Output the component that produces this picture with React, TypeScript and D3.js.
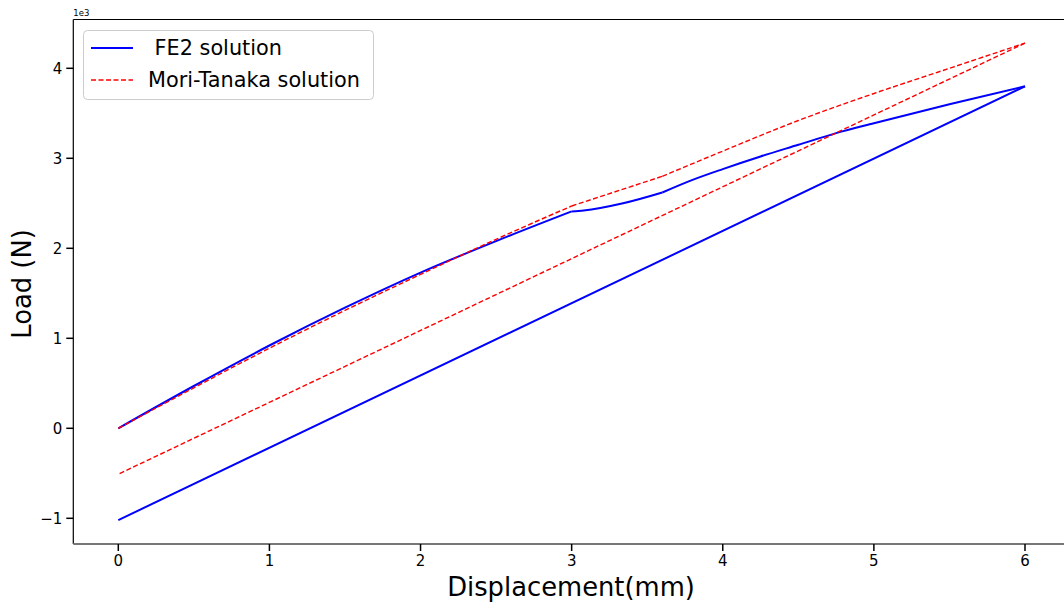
import React from "react";
import * as d3 from "d3";

const fe2LoadA: [number, number][] = [
  [0, 0], [0.5, 0.47], [1, 0.92], [1.5, 1.34], [2, 1.73], [2.5, 2.08], [3, 2.41],
];
const fe2LoadB: [number, number][] = [[3, 2.41], [3.08, 2.42], [3.34, 2.5], [3.6, 2.62]];
const fe2LoadC: [number, number][] = [
  [3.6, 2.62], [3.8, 2.76], [4, 2.88], [4.25, 3.02], [4.5, 3.15], [4.75, 3.28],
  [5, 3.39], [5.5, 3.6], [6, 3.8],
];
const fe2Unload: [number, number][] = [[6, 3.8], [0, -1.02]];
const mtLoadA: [number, number][] = [
  [0, 0], [0.5, 0.45], [1, 0.89], [1.5, 1.31], [2, 1.71], [2.5, 2.1], [3, 2.47],
];
const mtLoadB: [number, number][] = [[3, 2.47], [3.6, 2.8]];
const mtLoadC: [number, number][] = [
  [3.6, 2.8], [4, 3.08], [4.5, 3.42], [5, 3.72], [5.5, 4.0], [6, 4.28],
];
const mtUnload: [number, number][] = [[6, 4.28], [0, -0.51]];
const xTicks = [0, 1, 2, 3, 4, 5, 6];
const yTicks = [-1, 0, 1, 2, 3, 4];

export default function App() {
  const W = 1064, H = 605;
  const left = 73.3, top = 19.5, bottom = 544;
  const x = d3.scaleLinear().domain([0, 6]).range([118.3, 1025]);
  const y = d3.scaleLinear().domain([0, 4]).range([428.3, 68.3]);
  const line = d3.line<[number, number]>().x(d => x(d[0])).y(d => y(d[1])).curve(d3.curveMonotoneX);
  const font = "DejaVu Sans, sans-serif";
  const blue = (pts: [number, number][], k: string) => (
    <path key={k} d={line(pts)!} fill="none" stroke="#0000ff" strokeWidth={2} strokeLinejoin="round" />
  );
  const red = (pts: [number, number][], k: string) => (
    <path key={k} d={line(pts)!} fill="none" stroke="#ff0000" strokeWidth={1.4} strokeDasharray="5,2.5" />
  );
  return (
    <svg width={W} height={H} style={{ position: "absolute", left: 0, top: 0 }}>
      <rect width={W} height={H} fill="white" />
      {/* spines */}
      <line x1={left} x2={W} y1={top} y2={top} stroke="#000" strokeWidth={1} />
      <line x1={left} x2={left} y1={top} y2={bottom} stroke="#000" strokeWidth={1.2} />
      <line x1={left} x2={W} y1={bottom} y2={bottom} stroke="#777" strokeWidth={2} />
      {/* curves */}
      {blue(fe2LoadA, "a")}
      {blue(fe2LoadB, "b")}
      {blue(fe2LoadC, "c")}
      {blue(fe2Unload, "d")}
      {red(mtLoadA, "e")}
      {red(mtLoadB, "f")}
      {red(mtLoadC, "g")}
      {red(mtUnload, "h")}
      {/* x ticks */}
      {xTicks.map(t => (
        <g key={"x" + t}>
          <line x1={x(t)} x2={x(t)} y1={bottom} y2={bottom + 7} stroke="#000" strokeWidth={1.5} />
          <text x={x(t)} y={bottom + 22} fontSize={15} fontFamily={font} textAnchor="middle">{t}</text>
        </g>
      ))}
      {yTicks.map(t => (
        <g key={"y" + t}>
          <line x1={left - 7} x2={left} y1={y(t)} y2={y(t)} stroke="#000" strokeWidth={1.5} />
          <text x={left - 11} y={y(t) + 5.5} fontSize={15} fontFamily={font} textAnchor="end">{t < 0 ? "\u2212" + Math.abs(t) : t}</text>
        </g>
      ))}
      <text x={left} y={16} fontSize={8.5} fontFamily={font}>1e3</text>
      <text x={571} y={596} fontSize={25.8} fontFamily={font} textAnchor="middle">Displacement(mm)</text>
      <text transform={`translate(31,284) rotate(-90)`} fontSize={25.8} fontFamily={font} textAnchor="middle">Load (N)</text>
      {/* legend */}
      <rect x={83.5} y={30.5} width={290} height={69} rx={4} fill="white" stroke="#ccc" strokeWidth={1} />
      <line x1={91} x2={133} y1={48} y2={48} stroke="#0000ff" strokeWidth={2} />
      <text x={148} y={55} fontSize={20.8} fontFamily={font} style={{ whiteSpace: "pre" }}>{" FE2 solution"}</text>
      <line x1={91} x2={133} y1={80} y2={80} stroke="#ff0000" strokeWidth={1.4} strokeDasharray="5,2.5" />
      <text x={148} y={87} fontSize={20.8} fontFamily={font}>Mori-Tanaka solution</text>
    </svg>
  );
}
